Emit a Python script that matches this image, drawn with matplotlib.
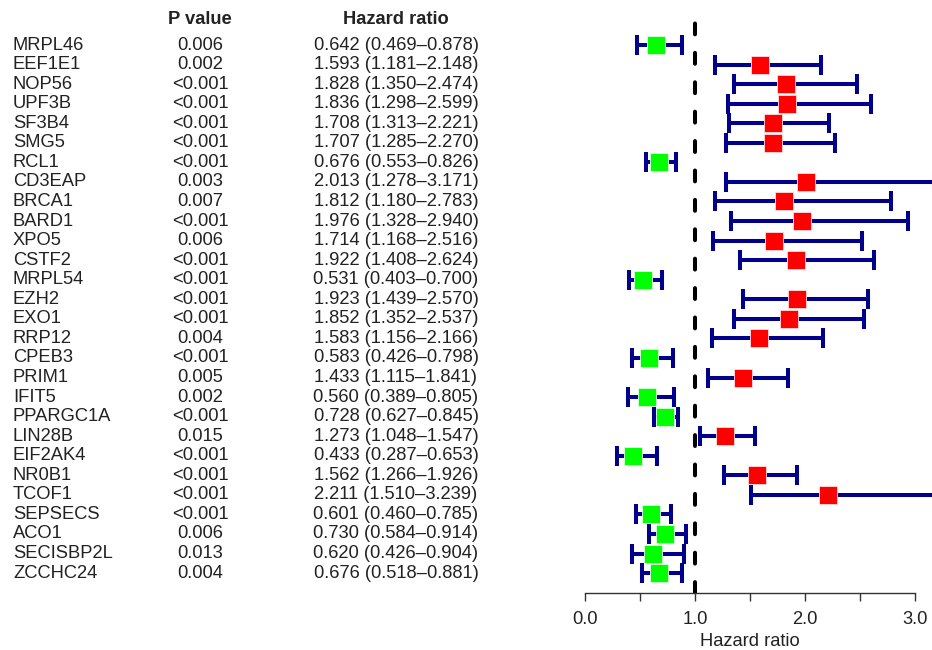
import matplotlib
matplotlib.use("Agg")
import matplotlib.pyplot as plt
import matplotlib.transforms as mtransforms
import numpy as np

plt.rcParams['font.family'] = ['Liberation Sans', 'DejaVu Sans']

# Values
genes = ["MRPL46", "EEF1E1", "NOP56", "UPF3B", "SF3B4", "SMG5", "RCL1", "CD3EAP",
         "BRCA1", "BARD1", "XPO5", "CSTF2", "MRPL54", "EZH2", "EXO1", "RRP12",
         "CPEB3", "PRIM1", "IFIT5", "PPARGC1A", "LIN28B", "EIF2AK4", "NR0B1",
         "TCOF1", "SEPSECS", "ACO1", "SECISBP2L", "ZCCHC24"]
pvals = ["0.006", "0.002", "<0.001", "<0.001", "<0.001", "<0.001", "<0.001", "0.003",
         "0.007", "<0.001", "0.006", "<0.001", "<0.001", "<0.001", "<0.001", "0.004",
         "<0.001", "0.005", "0.002", "<0.001", "0.015", "<0.001", "<0.001",
         "<0.001", "<0.001", "0.006", "0.013", "0.004"]
hr = [0.642, 1.593, 1.828, 1.836, 1.708, 1.707, 0.676, 2.013, 1.812, 1.976, 1.714,
      1.922, 0.531, 1.923, 1.852, 1.583, 0.583, 1.433, 0.560, 0.728, 1.273, 0.433,
      1.562, 2.211, 0.601, 0.730, 0.620, 0.676]
lo = [0.469, 1.181, 1.350, 1.298, 1.313, 1.285, 0.553, 1.278, 1.180, 1.328, 1.168,
      1.408, 0.403, 1.439, 1.352, 1.156, 0.426, 1.115, 0.389, 0.627, 1.048, 0.287,
      1.266, 1.510, 0.460, 0.584, 0.426, 0.518]
hi = [0.878, 2.148, 2.474, 2.599, 2.221, 2.270, 0.826, 3.171, 2.783, 2.940, 2.516,
      2.624, 0.700, 2.570, 2.537, 2.166, 0.798, 1.841, 0.805, 0.845, 1.547, 0.653,
      1.926, 3.239, 0.785, 0.914, 0.904, 0.881]

W, H = 932, 650
fig = plt.figure(figsize=(W / 100, H / 100), dpi=100)

# plot panel: x=0 at 585px, 3.0 at 915px, runs to right edge
ax_left, ax_top, ax_bottom = 585, 10, 593
ax = fig.add_axes([ax_left / W, (H - ax_bottom) / H, (W - ax_left) / W, (ax_bottom - ax_top) / H])
scale_x = 110.0
ax.set_xlim(0, (W - ax_left) / scale_x)
row_px, first_px = 19.56, 45
n = len(genes)
ax.set_ylim(n - 1 + (ax_bottom - (first_px + row_px * (n - 1))) / row_px,
            -(first_px - ax_top) / row_px)

ypos = np.arange(n)
hr_a, lo_a, hi_a = np.array(hr), np.array(lo), np.array(hi)
navy = "#00008B"
txt = "#222222"

# reference line at HR = 1
ax.axvline(1, ymin=0, ymax=(ax_bottom - 17) / (ax_bottom - ax_top), color="black",
           lw=2.9, dashes=(2.7, 4.6), dash_capstyle="round")

ax.errorbar(hr_a, ypos, xerr=[hr_a - lo_a, hi_a - hr_a], fmt="none", ecolor=navy,
            elinewidth=2.9, capsize=7.4, capthick=2.9)
cols = np.where(hr_a < 1, "#00FF00", "#FF0000")
for x, y, c in zip(hr_a, ypos, cols):
    ax.plot(x, y, marker="s", ms=12.5, color=c, mec="#ffdddd" if c == "#FF0000" else "#ddffdd",
            mew=0.6, zorder=5)

for s in ["top", "right", "left"]:
    ax.spines[s].set_visible(False)
ax.spines["bottom"].set_bounds(0, 3)
ax.spines["bottom"].set_color("#333333")
ax.spines["bottom"].set_linewidth(1.0)
ax.set_xticks(np.arange(0, 3.01, 0.5))
ax.set_xticklabels(["0.0", "", "1.0", "", "2.0", "", "3.0"])
ax.tick_params(axis="x", length=6, width=1.0, color="#333333", labelsize=13.2,
               labelcolor=txt, pad=7)
ax.set_yticks([])
ax.text(1.5, (H - 642) / H, "Hazard ratio", fontsize=13.2, color=txt, ha="center",
        va="center", transform=mtransforms.blended_transform_factory(ax.transData, fig.transFigure))

# left-hand table
tr = mtransforms.blended_transform_factory(fig.transFigure, ax.transData)
head_y = -(first_px - 19) / row_px
ax.text(200 / W, head_y, "P value", transform=tr, fontsize=13.2, fontweight="bold",
        ha="center", va="center", color=txt, clip_on=False)
ax.text(396 / W, head_y, "Hazard ratio", transform=tr, fontsize=13.2, fontweight="bold",
        ha="center", va="center", color=txt, clip_on=False)
for i in range(n):
    ax.text(13 / W, i, genes[i], transform=tr, fontsize=13.2, ha="left", va="center",
            color=txt, clip_on=False)
    ax.text(200 / W, i, pvals[i], transform=tr, fontsize=13.2, ha="center", va="center",
            color=txt, clip_on=False)
    ax.text(396 / W, i, "%.3f (%.3f\u2013%.3f)" % (hr[i], lo[i], hi[i]), transform=tr,
            fontsize=13.2, ha="center", va="center", color=txt, clip_on=False)

fig.savefig("out.png", dpi=100)
